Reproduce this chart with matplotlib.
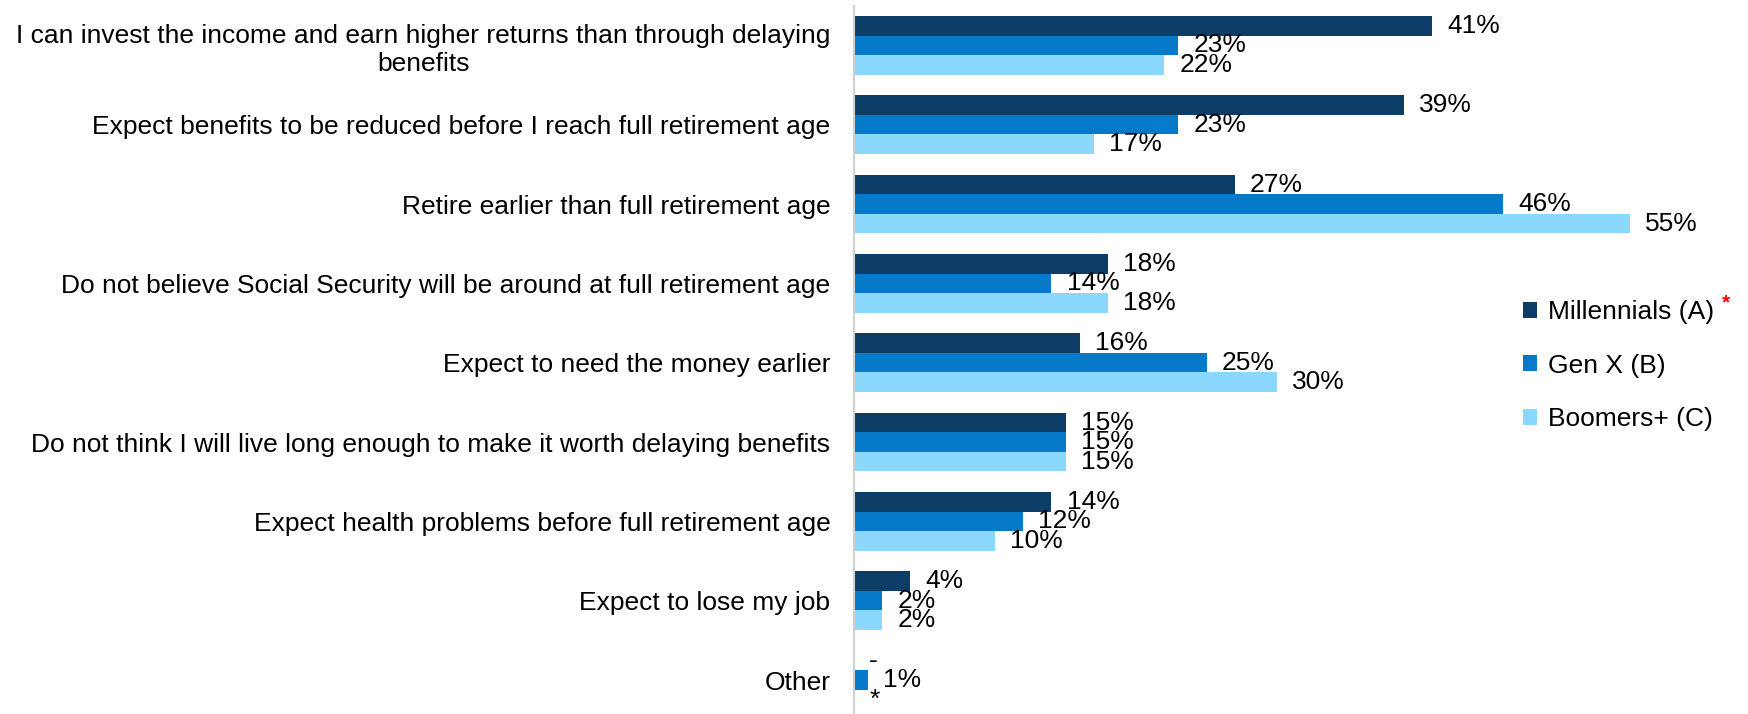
import matplotlib.pyplot as plt
import numpy as np

plt.rcParams['font.family'] = ['Liberation Sans', 'DejaVu Sans']

categories = [
    "I can invest the income and earn higher returns than through delaying\nbenefits",
    "Expect benefits to be reduced before I reach full retirement age",
    "Retire earlier than full retirement age",
    "Do not believe Social Security will be around at full retirement age",
    "Expect to need the money earlier",
    "Do not think I will live long enough to make it worth delaying benefits",
    "Expect health problems before full retirement age",
    "Expect to lose my job",
    "Other",
]
millennials = [41, 39, 27, 18, 16, 15, 14, 4, 0]
genx = [23, 23, 46, 14, 25, 15, 12, 2, 1]
boomers = [22, 17, 55, 18, 30, 15, 10, 2, 0]
# labels for the "Other" row where no percentage is reported
millennials_txt = [f"{v}%" for v in millennials[:-1]] + ["-"]
genx_txt = [f"{v}%" for v in genx]
boomers_txt = [f"{v}%" for v in boomers[:-1]] + ["*"]

series = ["Millennials (A)", "Gen X (B)", "Boomers+ (C)"]
colors = ["#0b3d66", "#0779c9", "#8bd8ff"]

fig = plt.figure(figsize=(17.48, 7.14), dpi=100)
ax = fig.add_axes([854 / 1748, -0.008, 1 - 854 / 1748, 1.0])

y = np.arange(len(categories))
h = 0.246
fs = 19
for i, (vals, txt, col, name) in enumerate(zip(
        [millennials, genx, boomers],
        [millennials_txt, genx_txt, boomers_txt], colors, series)):
    pos = y + (i - 1) * h
    ax.barh(pos, vals, height=h, color=col, label=name)
    for p, v, t in zip(pos, vals, txt):
        ax.annotate(t, (v, p), xytext=(11, 0), textcoords='offset points',
                    ha='left', va='center', fontsize=fs, color='black')

ax.set_xlim(0, 63.4)
ax.set_ylim(len(categories) - 0.5, -0.5)
ax.set_yticks(y)
ax.set_yticklabels(categories, fontsize=fs)
for lbl in ax.get_yticklabels():
    lbl.set_multialignment('center')
ax.tick_params(axis='y', length=0, pad=17)
ax.set_xticks([])
for s in ['top', 'right', 'bottom']:
    ax.spines[s].set_visible(False)
ax.spines['left'].set_color('#d0d0d0')
ax.spines['left'].set_linewidth(1.5)

leg = fig.legend(loc='center left', bbox_to_anchor=(1499 / 1748, 0.488),
                 frameon=False, fontsize=fs, handlelength=0.55,
                 handleheight=0.55, handletextpad=0.4, labelspacing=1.12)
fig.text(1726 / 1748, 1 - 303 / 714, "*", color='red', fontsize=15,
         fontweight='bold', ha='center', va='center')

fig.savefig('out.png', dpi=100)
